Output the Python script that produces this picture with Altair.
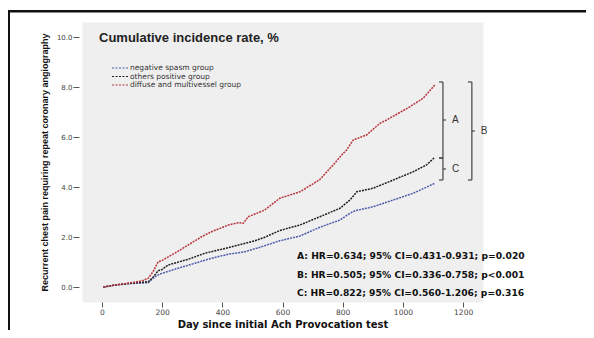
import altair as alt
import pandas as pd

# ---------------- data ----------------
groups = ["negative spasm group", "others positive group", "diffuse and multivessel group"]
colors = ["#4a5ba8", "#1e1e1e", "#b8343e"]

neg_days = [5, 43, 86, 132, 154, 176, 193, 253, 309, 364, 420, 475, 525, 591, 658, 724, 791, 824, 841, 901, 968, 1034, 1078, 1106]
neg_vals = [0.0, 0.07, 0.13, 0.16, 0.17, 0.41, 0.52, 0.75, 0.95, 1.15, 1.31, 1.41, 1.59, 1.85, 2.04, 2.39, 2.68, 2.95, 3.05, 3.21, 3.48, 3.75, 3.99, 4.15]

oth_days = [5, 43, 86, 132, 154, 170, 187, 200, 220, 287, 342, 398, 453, 508, 541, 591, 658, 724, 791, 824, 847, 901, 968, 1034, 1078, 1106]
oth_vals = [0.0, 0.08, 0.14, 0.19, 0.21, 0.39, 0.65, 0.70, 0.88, 1.11, 1.35, 1.51, 1.68, 1.85, 1.99, 2.26, 2.48, 2.81, 3.15, 3.48, 3.81, 3.95, 4.28, 4.61, 4.88, 5.19]

dif_days = [5, 43, 86, 132, 154, 170, 187, 198, 242, 287, 331, 364, 420, 453, 470, 486, 541, 591, 658, 691, 724, 768, 802, 813, 835, 879, 924, 946, 1023, 1067, 1106]
dif_vals = [0.0, 0.08, 0.15, 0.24, 0.35, 0.61, 1.01, 1.05, 1.35, 1.68, 2.01, 2.21, 2.48, 2.57, 2.55, 2.81, 3.08, 3.55, 3.81, 4.05, 4.30, 4.88, 5.35, 5.48, 5.88, 6.08, 6.55, 6.68, 7.21, 7.55, 8.08]

x_ticks = [0, 200, 400, 600, 800, 1000, 1200]
y_ticks = [0, 2, 4, 6, 8, 10]

title_text = "Cumulative incidence rate, %"
x_title = "Day since initial Ach Provocation test"
y_title = "Recurrent chest pain requiring repeat coronary angiography"

hr_lines = [
    "A: HR=0.634; 95% CI=0.431-0.931; p=0.020",
    "B: HR=0.505; 95% CI=0.336-0.758; p<0.001",
    "C: HR=0.822; 95% CI=0.560-1.206; p=0.316",
]

bracket_names = ["A", "C", "B"]
bracket_day = [1133, 1133, 1229]
bracket_top = [8.2, 5.16, 8.2]
bracket_bottom = [5.16, 4.28, 4.28]

# ---------------- tables ----------------
rows = []
for g, ds, vs in zip(groups, [neg_days, oth_days, dif_days], [neg_vals, oth_vals, dif_vals]):
    for d, v in zip(ds, vs):
        rows.append({"group": g, "day": d, "rate": v})
curve_df = pd.DataFrame(rows)

END_LEN = 13   # days, left-pointing bracket ends
TICK_LEN = 10  # days, right-pointing middle tick
seg_rows, lab_rows = [], []
for n, d, t, b in zip(bracket_names, bracket_day, bracket_top, bracket_bottom):
    m = (t + b) / 2
    seg_rows.append({"day": d, "day2": d, "rate": t, "rate2": b})
    seg_rows.append({"day": d - END_LEN, "day2": d, "rate": t, "rate2": t})
    seg_rows.append({"day": d - END_LEN, "day2": d, "rate": b, "rate2": b})
    seg_rows.append({"day": d, "day2": d + TICK_LEN, "rate": m, "rate2": m})
    lab_rows.append({"day": d, "rate": m, "name": n})
seg_df = pd.DataFrame(seg_rows)
lab_df = pd.DataFrame(lab_rows)

# ---------------- scales / axes ----------------
xs = alt.Scale(domain=[-66, 1266], nice=False, zero=False)
ys = alt.Scale(domain=[-0.6, 10.6], nice=False, zero=False)
cs = alt.Scale(domain=groups, range=colors)

x_axis = alt.Axis(
    values=x_ticks, format="d", title=x_title, domain=False, grid=False,
    tickSize=5, tickColor="#555", labelPadding=1, labelFont="DejaVu Sans",
    labelFontSize=7.5, labelColor="#444", titleFont="DejaVu Sans",
    titleFontSize=10, titleFontWeight="bold", titleColor="#111", titlePadding=4)
y_axis = alt.Axis(
    values=y_ticks, format=".1f", title=y_title, domain=False, grid=False,
    offset=3, tickSize=6, tickColor="#555", labelPadding=1, labelFont="DejaVu Sans",
    labelFontSize=7, labelColor="#444", titleFont="Liberation Sans",
    titleFontSize=9, titleFontWeight="bold", titleColor="#111", titlePadding=7)

X = alt.X("day:Q", scale=xs, axis=x_axis, title=x_title)
Y = alt.Y("rate:Q", scale=ys, axis=y_axis, title=y_title)

one = alt.Data(values=[{}])

curves = alt.Chart(curve_df).mark_line(strokeWidth=1.5, strokeDash=[2, 1]).encode(
    x=X, y=Y,
    color=alt.Color("group:N", scale=cs, legend=None),
)

brackets = alt.Chart(seg_df).mark_rule(color="#444", strokeWidth=1.2).encode(
    x=X, x2="day2:Q", y=Y, y2="rate2:Q",
)

bracket_labels = alt.Chart(lab_df).mark_text(
    align="left", baseline="middle", dx=9, font="Liberation Sans", fontSize=10, color="#333"
).encode(x=X, y=Y, text="name:N")

layers = [curves, brackets, bracket_labels]

# title inside plot
layers.append(alt.Chart(one).mark_text(
    align="left", baseline="middle", font="Liberation Sans", fontSize=13,
    fontWeight="bold", color="#222"
).encode(x=alt.value(17), y=alt.value(16), text=alt.value(title_text)))

# legend
for i, (g, c) in enumerate(zip(groups, colors)):
    yy = 46 + i * 8.5
    layers.append(alt.Chart(one).mark_rule(color=c, strokeWidth=1.2, strokeDash=[2, 1.5]).encode(
        x=alt.value(30), x2=alt.value(46), y=alt.value(yy)))
    layers.append(alt.Chart(one).mark_text(
        align="left", baseline="middle", font="DejaVu Sans", fontSize=7.5, color="#333"
    ).encode(x=alt.value(48), y=alt.value(yy), text=alt.value(g)))

# HR annotations
for i, line in enumerate(hr_lines):
    layers.append(alt.Chart(one).mark_text(
        align="left", baseline="middle", font="DejaVu Sans", fontSize=9.2,
        fontWeight="bold", color="#111"
    ).encode(x=alt.value(215), y=alt.value(234 + i * 18.5), text=alt.value(line)))

# outer frame (left and top edges)
layers.append(alt.Chart(one).mark_rule(color="#111", strokeWidth=2.6).encode(
    x=alt.value(-73.3), y=alt.value(-11), y2=alt.value(330)))
layers.append(alt.Chart(one).mark_rule(color="#111", strokeWidth=2.6).encode(
    x=alt.value(-74.5), x2=alt.value(520), y=alt.value(-10.8)))

chart = alt.layer(*layers).properties(
    width=401, height=280,
    autosize=alt.AutoSizeParams(type="none"),
    padding={"left": 74, "top": 14, "right": 103, "bottom": 28},
    background="white",
).configure_view(fill="#efefef", stroke="transparent")

chart.save("out.html", embed_options={"renderer": "svg", "actions": False})
